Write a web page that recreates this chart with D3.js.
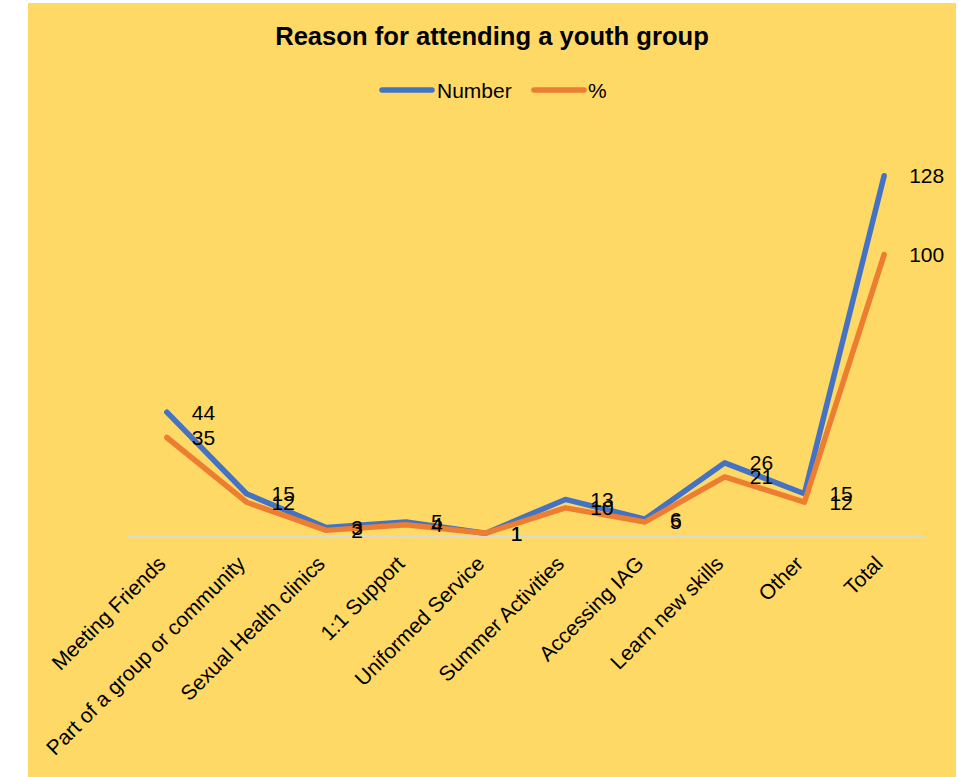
<!DOCTYPE html>
<html>
<head>
<meta charset="utf-8">
<script src="https://cdn.jsdelivr.net/npm/d3@7"></script>
<style>
  html, body { margin: 0; padding: 0; background: #ffffff; }
  svg { display: block; font-family: "Liberation Sans", Arial, sans-serif; }
</style>
</head>
<body>
<svg id="chart" width="958" height="777"></svg>
<script>
// Reasons given for attending a youth group
const categories = [
  "Meeting Friends", "Part of a group or community", "Sexual Health clinics",
  "1:1 Support", "Uniformed Service", "Summer Activities", "Accessing IAG",
  "Learn new skills", "Other", "Total"
];
const numberValues = [44, 15, 3, 5, 1, 13, 6, 26, 15, 128];
const percentValues = [35, 12, 2, 4, 1, 10, 5, 21, 12, 100];
const seriesNames = ["Number", "%"];
const yDomain = [0, 140];

const svg = d3.select("#chart");

// Chart area background
svg.append("rect")
  .attr("x", 28).attr("y", 3)
  .attr("width", 928).attr("height", 774)
  .attr("fill", "#FFD966");

const x = d3.scaleBand().domain(categories).range([127, 924]);
const y = d3.scaleLinear().domain(yDomain).range([536, 142]);
const cx = d => x(d) + x.bandwidth() / 2;

// Title
svg.append("text")
  .attr("x", 492).attr("y", 45)
  .attr("text-anchor", "middle")
  .attr("font-size", 25.6).attr("font-weight", "bold")
  .attr("fill", "#000")
  .text("Reason for attending a youth group");

// Category axis
const xAxis = svg.append("g")
  .attr("transform", "translate(0,536)")
  .call(d3.axisBottom(x).tickSize(0).tickPadding(0));
xAxis.select(".domain").attr("stroke", "#D9D9D9").attr("stroke-width", 2);
xAxis.selectAll(".tick text")
  .attr("font-size", 21)
  .attr("fill", "#000")
  .attr("text-anchor", "end")
  .attr("dy", 0)
  .attr("transform", "translate(0,29) rotate(-45)");

const colors = ["#4472C4", "#ED7D31"];
const series = [numberValues, percentValues];

const line = d3.line()
  .x((d, i) => cx(categories[i]))
  .y(d => y(d));

series.forEach((vals, s) => {
  svg.append("path")
    .datum(vals)
    .attr("d", line)
    .attr("fill", "none")
    .attr("stroke", colors[s])
    .attr("stroke-width", 5.5)
    .attr("stroke-linejoin", "round")
    .attr("stroke-linecap", "round");
});

// Data labels to the right of each point
series.forEach((vals, s) => {
  svg.append("g").selectAll("text")
    .data(vals)
    .join("text")
    .attr("x", (d, i) => cx(categories[i]) + 25)
    .attr("y", d => y(d))
    .attr("dy", "0.36em")
    .attr("font-size", 21)
    .attr("fill", "#000")
    .text(d => d);
});

// Legend
const legend = svg.append("g");
const legendItems = [
  { name: seriesNames[0], color: colors[0], x: 382, tx: 437 },
  { name: seriesNames[1], color: colors[1], x: 534, tx: 588 }
];
legendItems.forEach(it => {
  legend.append("line")
    .attr("x1", it.x).attr("x2", it.x + 50)
    .attr("y1", 90).attr("y2", 90)
    .attr("stroke", it.color).attr("stroke-width", 5.5)
    .attr("stroke-linecap", "round");
  legend.append("text")
    .attr("x", it.tx).attr("y", 90).attr("dy", "0.36em")
    .attr("font-size", 21).attr("fill", "#000")
    .text(it.name);
});
</script>
</body>
</html>
